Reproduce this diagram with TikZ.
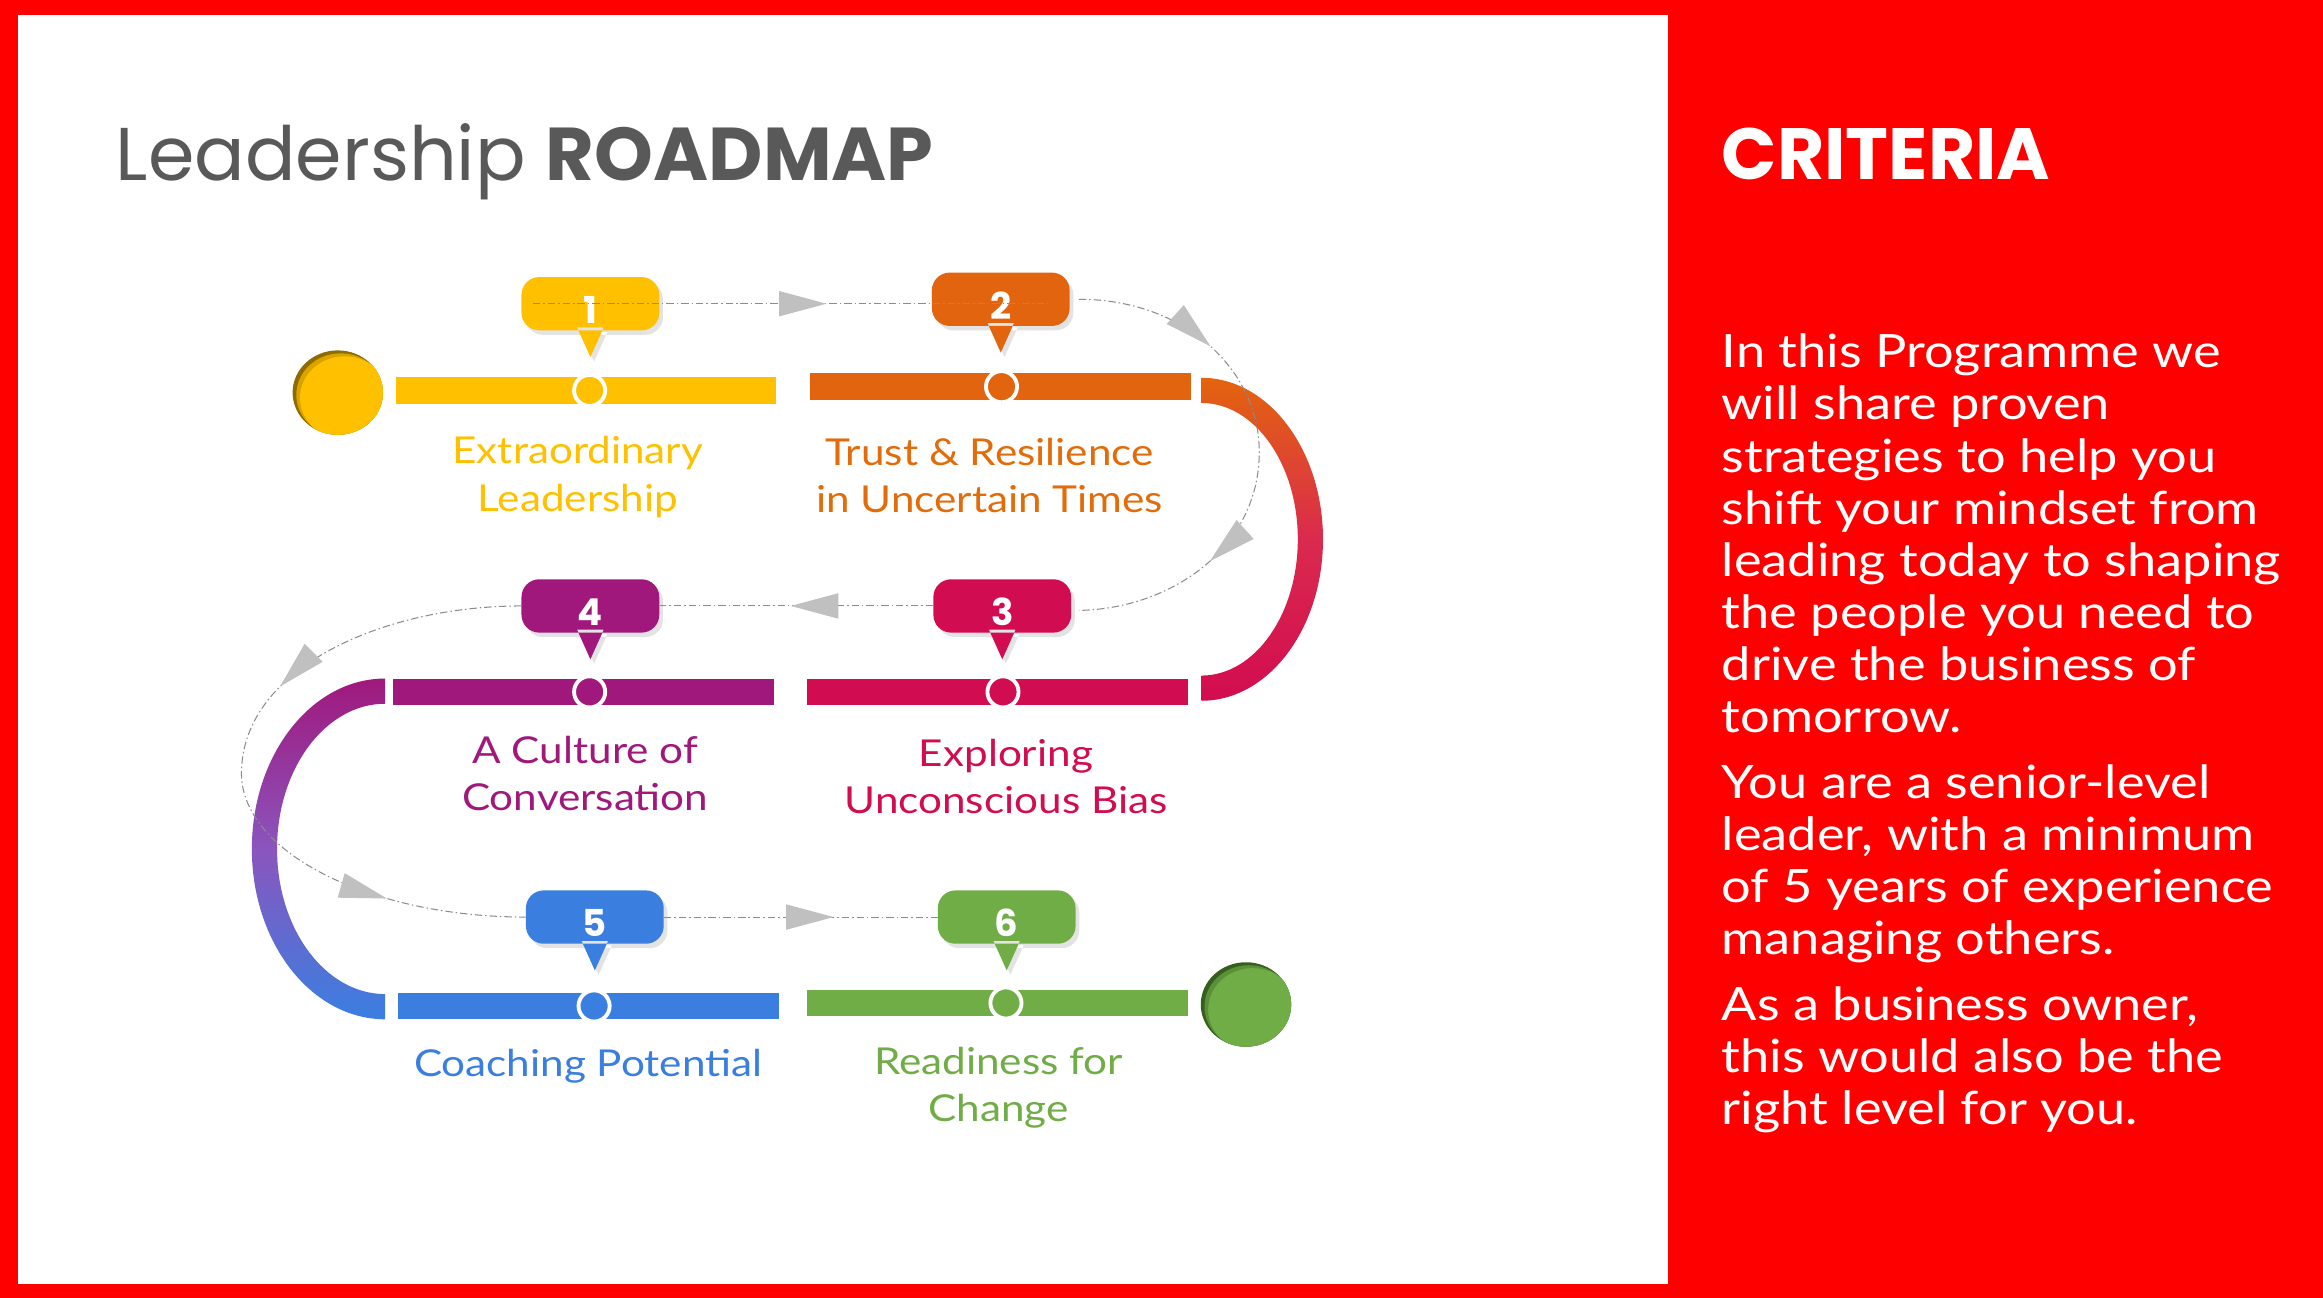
\documentclass[tikz,border=0pt]{standalone}
\usepackage{fontspec}
\setmainfont{Lato}[FakeStretch=1.14]
\newfontfamily\geofont{Poppins}
\usetikzlibrary{arrows.meta,decorations.markings,shadows,calc,shapes.geometric}

\definecolor{cRed}{HTML}{FF0000}
\definecolor{cTitle}{HTML}{595959}
\definecolor{cYel}{HTML}{FFC000}
\definecolor{cYelMid}{HTML}{D9A300}
\definecolor{cYelDark}{HTML}{8F6B00}
\definecolor{cOra}{HTML}{E3640E}
\definecolor{cOraTxt}{HTML}{E36C0A}
\definecolor{cCri}{HTML}{D20C50}
\definecolor{cArcRed}{HTML}{DA2A4E}
\definecolor{cPur}{HTML}{A0187C}
\definecolor{cViolet}{HTML}{8A55BE}
\definecolor{cBlu}{HTML}{3A7FE0}
\definecolor{cGrn}{HTML}{70AD47}
\definecolor{cGrnMid}{HTML}{5A9038}
\definecolor{cGrnDark}{HTML}{365F1E}
\definecolor{cArrow}{HTML}{C0C0C0}
\definecolor{cLine}{HTML}{8C8C8C}

\newcommand\flowtip{\arrow{Triangle[length=32pt,width=17pt,color=cArrow]}}
\newcommand\callout[5]{%
  \path[fill=#4, drop shadow={shadow xshift=2.5pt, shadow yshift=-3pt, opacity=0.22}]
    [rounded corners=12pt] (#2-46.5,#3-18) rectangle (#2+46.5,#3+18)
    [sharp corners] (#2-9,#3-16) -- (#2,#3-36) -- (#2+9,#3-16) -- cycle;
  \node[callnum] (#1) at (#2,#3) {};
  \node[numtxt] (#1t) at ([yshift=-4pt]#1.center) {#5};
}

\tikzset{
  x=1pt, y=1pt,
  bar/.style={rectangle, inner sep=0pt, minimum width=257pt, minimum height=18pt, fill=#1},
  dot/.style={circle, inner sep=0pt, minimum size=21pt, fill=#1, draw=white, line width=2.6pt},
  callnum/.style={rectangle, inner sep=0pt, minimum width=93pt, minimum height=36pt},
  numtxt/.style={inner sep=0pt, text=white, font=\geofont\bfseries\fontsize{25}{25}\selectfont},
  lab/.style={align=center, text=#1, inner sep=0pt, font=\fontsize{25}{32}\selectfont},
  flow/.style={draw=cLine, line width=0.7pt, dash pattern=on 5pt off 2pt on 1pt off 2pt},
  flowmark/.style={postaction={decorate, decoration={markings, mark=at position #1 with {\flowtip}}}},
  blob/.style n args={3}{ellipse, inner sep=0pt, minimum width=61pt, minimum height=57pt, fill=#1,
    path picture={
      \fill[#2] ([shift={(2pt,-1.5pt)}]path picture bounding box.center) ellipse [x radius=30pt, y radius=28pt];
      \fill[#3] ([shift={(4.5pt,-3.5pt)}]path picture bounding box.center) ellipse [x radius=30pt, y radius=28pt];}},
}

\begin{document}
\begin{tikzpicture}
\useasboundingbox (0,0) rectangle (1568,-876);
\fill[cRed] (0,0) rectangle (1568,-876);
\fill[white] (12,-10) rectangle (1126,-867);

% title
\node[anchor=base west, text=cTitle, inner sep=0pt, font=\geofont\fontsize{50.5}{50.5}\selectfont] (title) at (78,-122) {Leadership \textbf{ROADMAP}};

% gradient arcs
\shade[top color=cOra, bottom color=cCri, middle color=cArcRed]
  (811,-255) arc[start angle=90, end angle=-90, x radius=82, y radius=109]
  -- (811,-456) arc[start angle=-90, end angle=90, x radius=65, y radius=92] -- cycle;
\shade[top color=cPur, bottom color=cBlu, middle color=cViolet]
  (260,-458) arc[start angle=90, end angle=270, x radius=90, y radius=115]
  -- (260,-671) arc[start angle=270, end angle=90, x radius=73, y radius=98] -- cycle;

% bars
\node[bar=cYel] (b1) at (395.5,-263.5) {};
\node[bar=cOra] (b2) at (675.5,-261) {};
\node[bar=cCri] (b3) at (673.5,-467) {};
\node[bar=cPur] (b4) at (394,-467) {};
\node[bar=cBlu] (b5) at (397,-679) {};
\node[bar=cGrn] (b6) at (673.5,-677) {};

% dots
\node[dot=cYel] (d1) at (398,-263.5) {};
\node[dot=cOra] (d2) at (676,-261) {};
\node[dot=cCri] (d3) at (677,-467) {};
\node[dot=cPur] (d4) at (398,-467) {};
\node[dot=cBlu] (d5) at (401,-679) {};
\node[dot=cGrn] (d6) at (679,-677) {};

% start / finish
\node[blob={cYelDark}{cYelMid}{cYel}] (start) at (228,-265) {};
\node[blob={cGrnDark}{cGrnMid}{cGrn}] (finish) at (841,-678) {};

% labels
\node[lab=cYel] (l1) at (390,-322) {Extraordinary\\Leadership};
\node[lab=cOraTxt] (l2) at (668,-321) {Trust \& Resilience\\in Uncertain Times};
\node[lab=cCri] (l3) at (679,-524) {Exploring\\Unconscious Bias};
\node[lab=cPur] (l4) at (395,-522) {A Culture of\\Conversation};
\node[lab=cBlu] (l5) at (397,-720) {Coaching Potential};
\node[lab=cGrn] (l6) at (674,-734) {Readiness for\\Change};

% callouts
\callout{c1}{398.5}{-205}{cYel}{1}
\callout{c2}{675.5}{-202}{cOra}{2}
\callout{c3}{676.5}{-409}{cCri}{3}
\callout{c4}{398.5}{-409}{cPur}{4}
\callout{c5}{401.5}{-619}{cBlu}{5}
\callout{c6}{679.5}{-619}{cGrn}{6}

% flow connectors
\coordinate (bendR) at (850,-305);
\coordinate (bendL) at (163,-520);
\draw[flow, flowmark=0.57] ([xshift=8pt]c1.west) -- ([xshift=-15pt]c2.east |- c1.west);
\draw[flow, flowmark=0.27, flowmark=0.73] ([xshift=6pt]c2.east) .. controls +(72,0) and +(0,55) .. (bendR)
  .. controls +(0,-65) and +(62,1) .. ([xshift=5pt,yshift=-3pt]c3.east);
\draw[flow, flowmark=0.52] (c3.west) -- (c4.east);
\draw[flow, flowmark=0.37, flowmark=0.8] (c4.west) .. controls +(-92,0) and +(2,70) .. (bendL)
  .. controls +(-2,-55) and +(-105,0) .. (c5.west);
\draw[flow, flowmark=0.62] (c5.east) -- (c6.west);

% right panel
\node[anchor=base west, text=white, inner sep=0pt, font=\geofont\bfseries\fontsize{49}{49}\selectfont] (crit) at (1162,-121) {CRITERIA};
\node[anchor=base west, text=white, align=left, inner sep=0pt, font=\fontsize{31}{35.2}\selectfont] (body) at (1162,-759) {In this Programme we\\
will share proven\\
strategies to help you\\
shift your mindset from\\
leading today to shaping\\
the people you need to\\
drive the business of\\
tomorrow.\\[9pt]
You are a senior-level\\
leader, with a minimum\\
of 5 years of experience\\
managing others.\\[9pt]
As a business owner,\\
this would also be the\\
right level for you.};
\end{tikzpicture}
\end{document}
